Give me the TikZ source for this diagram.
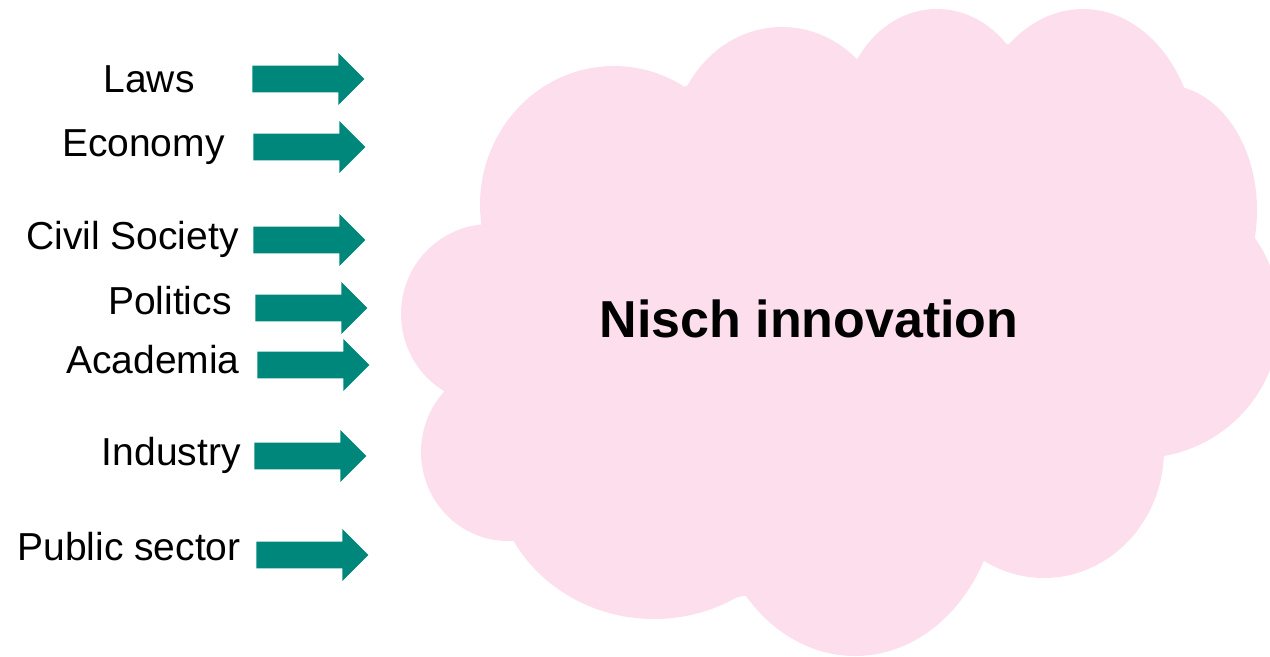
\documentclass[tikz,border=0pt]{standalone}
\usepackage{fontspec}
\setmainfont{Liberation Sans}
\usepackage{xcolor}
\usepackage{tikz}
\usetikzlibrary{shapes.arrows}
\definecolor{pushteal}{RGB}{0,135,123}
\definecolor{cloudpink}{RGB}{252,222,236}
\tikzset{pusharrow/.style={single arrow, fill=pushteal, draw=none,
    minimum height=2.24cm, minimum width=1.02cm, inner xsep=0pt, inner ysep=.26cm,
    single arrow head extend=.25cm, single arrow tip angle=90, anchor=tail}}
\tikzset{forcelabel/.style={anchor=base east, inner sep=0pt, font=\fontsize{22.2pt}{24pt}\selectfont}}
\tikzset{bubble/.style={anchor=base, inner sep=0pt, font=\fontsize{29.6pt}{32pt}\selectfont\bfseries}}

\begin{document}
\begin{tikzpicture}[x=0.02cm, y=-0.02cm]
    \useasboundingbox (0,0) rectangle (1270,656);

    % the cloud
    \begin{scope}
    \clip (0,0) rectangle (1270,656);
    \fill [cloudpink] (614,205) ellipse [x radius=134, y radius=139]
        (782,147) ellipse [x radius=110, y radius=120]
        (937,119) ellipse [x radius=95, y radius=110]
        (1083,159) ellipse [x radius=115, y radius=150]
        (1165,210) ellipse [x radius=92, y radius=125]
        (1140,318) ellipse [x radius=140, y radius=140]
        (1044,450) ellipse [x radius=120, y radius=128]
        (855,480) ellipse [x radius=145, y radius=176]
        (654,469) ellipse [x radius=160, y radius=150]
        (508,452) ellipse [x radius=87, y radius=89]
        (490,314) ellipse [x radius=89, y radius=90];
    \fill [cloudpink] (686,86) -- (859,59) -- (1007,44) -- (1180,91) -- (1251,239)
        -- (1162,460) -- (982,561) -- (737,597) -- (520,540) -- (444,391)
        -- (481,225) -- cycle;
    \end{scope}
    \node [bubble] (niche) at (809,337) {Nisch innovation};

    % forces
    \node [pusharrow] (aLaws) at (252,79) {};
    \node [pusharrow] (aEconomy) at (253,147) {};
    \node [pusharrow] (aCivil) at (253,240) {};
    \node [pusharrow] (aPolitics) at (255,308) {};
    \node [pusharrow] (aAcademia) at (257,365) {};
    \node [pusharrow] (aIndustry) at (254,456) {};
    \node [pusharrow] (aPublic) at (256,555) {};

    \node [forcelabel] (lLaws) at (195,92) {Laws};
    \node [forcelabel] (lEconomy) at (225,156) {Economy};
    \node [forcelabel] (lCivil) at (239,249) {Civil Society};
    \node [forcelabel] (lPolitics) at (232,314) {Politics};
    \node [forcelabel] (lAcademia) at (240,373) {Academia};
    \node [forcelabel] (lIndustry) at (241,465) {Industry};
    \node [forcelabel] (lPublic) at (241,560) {Public sector};
\end{tikzpicture}
\end{document}
